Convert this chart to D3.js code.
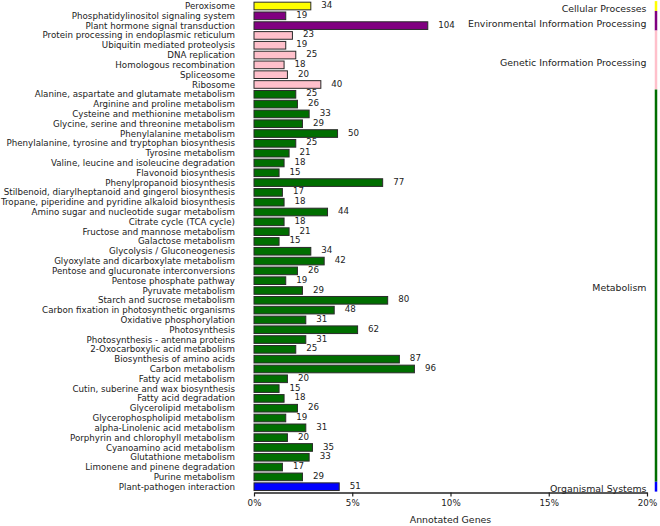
<!DOCTYPE html>
<html>
<head>
<meta charset="utf-8">
<script src="https://cdn.jsdelivr.net/npm/d3@7"></script>
<style>
  html, body { margin: 0; padding: 0; background: #fff; }
  svg { display: block; }
  text { font-family: "DejaVu Sans", Verdana, sans-serif; fill: #222; }
</style>
</head>
<body>
<svg id="chart" width="660" height="526"></svg>
<script>
// ---- data ----
const pathways = [
  "Peroxisome",
  "Phosphatidylinositol signaling system",
  "Plant hormone signal transduction",
  "Protein processing in endoplasmic reticulum",
  "Ubiquitin mediated proteolysis",
  "DNA replication",
  "Homologous recombination",
  "Spliceosome",
  "Ribosome",
  "Alanine, aspartate and glutamate metabolism",
  "Arginine and proline metabolism",
  "Cysteine and methionine metabolism",
  "Glycine, serine and threonine metabolism",
  "Phenylalanine metabolism",
  "Phenylalanine, tyrosine and tryptophan biosynthesis",
  "Tyrosine metabolism",
  "Valine, leucine and isoleucine degradation",
  "Flavonoid biosynthesis",
  "Phenylpropanoid biosynthesis",
  "Stilbenoid, diarylheptanoid and gingerol biosynthesis",
  "Tropane, piperidine and pyridine alkaloid biosynthesis",
  "Amino sugar and nucleotide sugar metabolism",
  "Citrate cycle (TCA cycle)",
  "Fructose and mannose metabolism",
  "Galactose metabolism",
  "Glycolysis / Gluconeogenesis",
  "Glyoxylate and dicarboxylate metabolism",
  "Pentose and glucuronate interconversions",
  "Pentose phosphate pathway",
  "Pyruvate metabolism",
  "Starch and sucrose metabolism",
  "Carbon fixation in photosynthetic organisms",
  "Oxidative phosphorylation",
  "Photosynthesis",
  "Photosynthesis - antenna proteins",
  "2-Oxocarboxylic acid metabolism",
  "Biosynthesis of amino acids",
  "Carbon metabolism",
  "Fatty acid metabolism",
  "Cutin, suberine and wax biosynthesis",
  "Fatty acid degradation",
  "Glycerolipid metabolism",
  "Glycerophospholipid metabolism",
  "alpha-Linolenic acid metabolism",
  "Porphyrin and chlorophyll metabolism",
  "Cyanoamino acid metabolism",
  "Glutathione metabolism",
  "Limonene and pinene degradation",
  "Purine metabolism",
  "Plant-pathogen interaction"
];
const geneCounts = [
  34, 19, 104, 23, 19, 25, 18, 20, 40,
  25, 26, 33, 29, 50, 25, 21, 18, 15, 77, 17, 18, 44, 18, 21, 15, 34, 42, 26, 19, 29,
  80, 48, 31, 62, 31, 25, 87, 96, 20, 15, 18, 26, 19, 31, 20, 35, 33, 17, 29,
  51
];
const pathwayClass = [
  "Cellular Processes",
  "Environmental Information Processing", "Environmental Information Processing",
  "Genetic Information Processing", "Genetic Information Processing", "Genetic Information Processing",
  "Genetic Information Processing", "Genetic Information Processing", "Genetic Information Processing",
  ...Array(40).fill("Metabolism"),
  "Organismal Systems"
];
const classNames = ["Cellular Processes", "Environmental Information Processing",
  "Genetic Information Processing", "Metabolism", "Organismal Systems"];
const classColors = ["#ffff00", "#800080", "#ffc0cb", "#006e00", "#0000ff"];
const totalAnnotated = 1176;
const xTicks = [0, 0.05, 0.10, 0.15, 0.20];
const xTitle = "Annotated Genes";

// ---- chart ----
const svg = d3.select("#chart");
const x = d3.scaleLinear().domain([0, 0.20]).range([254, 647]);
const y = d3.scaleBand().domain(pathways).range([1.1, 491.6]).paddingInner(0.22).paddingOuter(0.11);
const color = d3.scaleOrdinal().domain(classNames).range(classColors);
const step = y.step();
const fs = "8.7px";

const rows = pathways.map((p, i) => ({ name: p, value: geneCounts[i], cls: pathwayClass[i] }));

// bars
svg.append("g").selectAll("rect").data(rows).join("rect")
  .attr("x", x(0))
  .attr("y", d => y(d.name))
  .attr("width", d => x(d.value / totalAnnotated) - x(0))
  .attr("height", y.bandwidth())
  .attr("fill", d => color(d.cls))
  .attr("stroke", "#2a2a2a")
  .attr("stroke-width", 1);

// pathway labels
svg.append("g").selectAll("text").data(rows).join("text")
  .attr("x", 235)
  .attr("y", d => y(d.name) + y.bandwidth() / 2)
  .attr("dy", "0.35em")
  .attr("text-anchor", "end")
  .style("font-size", fs)
  .text(d => d.name);

// value labels
svg.append("g").selectAll("text").data(rows).join("text")
  .attr("x", d => x(d.value / totalAnnotated) + 10.5)
  .attr("y", d => y(d.name) + y.bandwidth() / 2 - 1)
  .attr("dy", "0.35em")
  .style("font-size", fs)
  .text(d => d.value);

// class side bars and labels
const groups = classNames.map(c => {
  const members = rows.filter(r => r.cls === c);
  const top = y(members[0].name) - step * 0.11;
  const bottom = y(members[members.length - 1].name) + y.bandwidth() + step * 0.11;
  return { cls: c, top, bottom };
});
svg.append("g").selectAll("line").data(groups).join("line")
  .attr("x1", 656).attr("x2", 656)
  .attr("y1", d => d.top).attr("y2", d => d.bottom)
  .attr("stroke", d => color(d.cls))
  .attr("stroke-width", 2.5);
svg.append("g").selectAll("text").data(groups).join("text")
  .attr("x", 646.5)
  .attr("y", d => (d.top + d.bottom) / 2 + 2.5)
  .attr("dy", "0.35em")
  .attr("text-anchor", "end")
  .style("font-size", "9.4px")
  .text(d => d.cls);

// axis
const axis = svg.append("g")
  .attr("transform", "translate(0,492.5)")
  .call(d3.axisBottom(x).tickValues(xTicks).tickFormat(d3.format(".0%")).tickSize(4).tickSizeOuter(0).tickPadding(3));
axis.select(".domain").attr("stroke", "#222").attr("stroke-width", 1.5);
axis.selectAll(".tick line").attr("stroke", "#222").attr("stroke-width", 1.2);
axis.selectAll(".tick text").style("font-size", fs).style("font-family", "DejaVu Sans, sans-serif").attr("fill", "#333");

svg.append("text")
  .attr("x", (x(0) + x(0.20)) / 2)
  .attr("y", 522.5)
  .attr("text-anchor", "middle")
  .style("font-size", "9.4px")
  .text(xTitle);
</script>
</body>
</html>
